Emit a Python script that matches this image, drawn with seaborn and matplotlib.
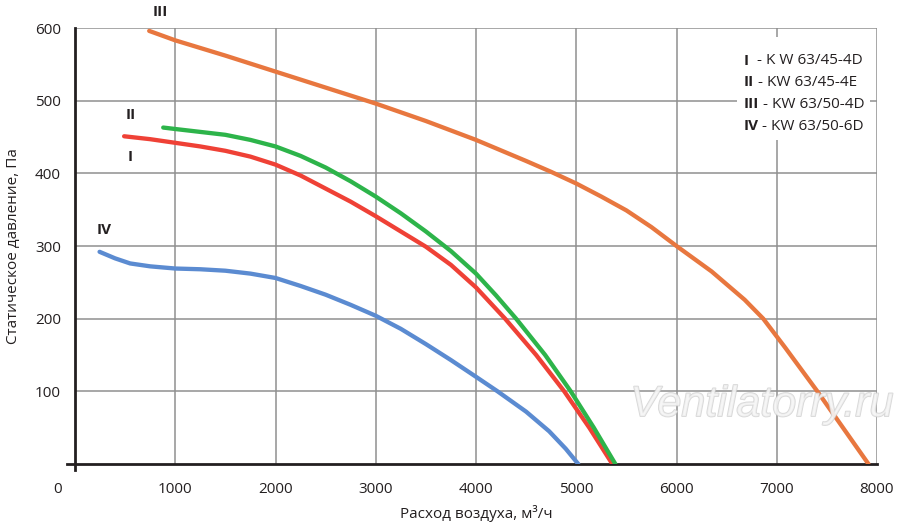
import matplotlib
matplotlib.use("Agg")
import matplotlib.pyplot as plt
import matplotlib.patheffects as pe
import matplotlib.transforms as mtransforms
from matplotlib.patches import Rectangle
import pandas as pd
import seaborn as sns

# curve I - KW 63/45-4D
flow_1 = [490, 750, 1000, 1250, 1500, 1750, 2000, 2250, 2500, 2750, 3000, 3250,
          3500, 3750, 4000, 4290, 4600, 4880, 5130, 5360]
pres_1 = [451, 447, 442, 437, 431, 423, 412, 397, 379, 361, 341, 320,
          299, 274, 243, 200, 150, 100, 50, 0]
# curve II - KW 63/45-4E
flow_2 = [880, 1000, 1250, 1500, 1750, 2000, 2250, 2500, 2750, 3000, 3250, 3500,
          3750, 4000, 4200, 4400, 4690, 4945, 5175, 5390]
pres_2 = [463, 461, 457, 453, 446, 437, 424, 408, 389, 368, 345, 320,
          293, 262, 232, 200, 150, 100, 50, 0]
# curve III - KW 63/50-4D
flow_3 = [740, 1000, 1500, 2000, 2500, 3000, 3500, 4000, 4500, 4750, 5000, 5250,
          5500, 5750, 6000, 6350, 6680, 6865, 7085, 7405, 7650, 7915]
pres_3 = [596, 583, 562, 540, 518, 496, 472, 446, 417, 402, 386, 368,
          349, 326, 300, 265, 226, 200, 160, 100, 52, 0]
# curve IV - KW 63/50-6D
flow_4 = [245, 400, 550, 750, 1000, 1250, 1500, 1750, 2000, 2250, 2500, 2750,
          3000, 3250, 3500, 3750, 4000, 4215, 4500, 4730, 4895, 5020]
pres_4 = [292, 283, 276, 272, 269, 268, 266, 262, 256, 245, 233, 219,
          204, 186, 165, 143, 120, 100, 72, 45, 21, 0]

curve_names = ["I", "II", "III", "IV"]
legend_text = ["  - K W 63/45-4D", " - KW 63/45-4E", " - KW 63/50-4D", " - KW 63/50-6D"]
colors = ["#ef4136", "#2db44a", "#e8773f", "#5b8bd1"]

x_ticks = [0, 1000, 2000, 3000, 4000, 5000, 6000, 7000, 8000]
y_ticks = [100, 200, 300, 400, 500, 600]

frames = []
for name, fx, fy in zip(curve_names, [flow_1, flow_2, flow_3, flow_4],
                        [pres_1, pres_2, pres_3, pres_4]):
    frames.append(pd.DataFrame({"flow": fx, "pressure": fy, "curve": name}))
df = pd.concat(frames, ignore_index=True)

sns.set_style("white")
plt.rcParams["font.family"] = ["Open Sans", "DejaVu Sans"]

dark = "#231f20"
fig = plt.figure(figsize=(9, 5.32), dpi=100)
ax = fig.add_axes([75 / 900, 1 - 464 / 532, 802 / 900, 436 / 532])

sns.lineplot(data=df, x="flow", y="pressure", hue="curve", palette=colors,
             hue_order=curve_names, linewidth=3.1, solid_capstyle="round",
             solid_joinstyle="round", legend=False, ax=ax, zorder=3, sort=False)

ax.set_xlim(0, 8000)
ax.set_ylim(0, 600)
ax.set_xticks(x_ticks)
ax.set_yticks(y_ticks)
ax.grid(True, color="#8f8f8f", linewidth=1.1)
ax.set_axisbelow(True)
ax.tick_params(axis="both", length=0, labelsize=11, labelcolor=dark)
ax.tick_params(axis="x", pad=13)
ax.tick_params(axis="y", pad=10)

# shift the "0" label to the left of the axis corner
zero_lab = ax.get_xticklabels()[0]
zero_lab.set_transform(zero_lab.get_transform() +
                       mtransforms.ScaledTranslation(-17 / 100, 0, fig.dpi_scale_trans))

for s in ["top", "right"]:
    ax.spines[s].set_visible(False)
for s in ["left", "bottom"]:
    ax.spines[s].set_color(dark)
    ax.spines[s].set_linewidth(2)
ax.spines["left"].set_bounds(-8, 600)
ax.spines["bottom"].set_bounds(-80, 8000)

ax.set_xlabel("Расход воздуха, м³/ч", fontsize=11, color=dark, labelpad=6)
ax.set_ylabel("Статическое давление, Па", fontsize=11, color=dark, labelpad=10)

# curve labels
label_pos = {"III": (850, 622), "II": (560, 480), "I": (550, 422), "IV": (290, 322)}
for name in curve_names:
    lx, ly = label_pos[name]
    ax.text(lx, ly, name, fontsize=11, fontweight="bold", color=dark,
            ha="center", va="center", clip_on=False, zorder=5)

# legend box
ax.add_patch(Rectangle((6600, 446), 1330, 141, facecolor="white",
                       edgecolor="none", zorder=2))
for i, (name, txt) in enumerate(zip(curve_names, legend_text)):
    yy = 0.925 - i * 0.05
    t = ax.text(0.8335, yy, name, transform=ax.transAxes, fontsize=11,
                fontweight="bold", color=dark, va="center", ha="left", zorder=4)
    ax.annotate(txt, xy=(1, 0.5), xycoords=t, fontsize=11, color=dark,
                va="center", ha="left", zorder=4)

# watermark
ax.text(1.02, 0.135, "Ventilatorry.ru", transform=ax.transAxes, fontsize=31,
        fontstyle="italic", family="Liberation Sans", color="#f6f6f6", alpha=0.7,
        ha="right", va="center", zorder=6, clip_on=False,
        path_effects=[pe.withStroke(linewidth=1.2, foreground="#c8c8c8")])

fig.savefig("out.png", dpi=100)
